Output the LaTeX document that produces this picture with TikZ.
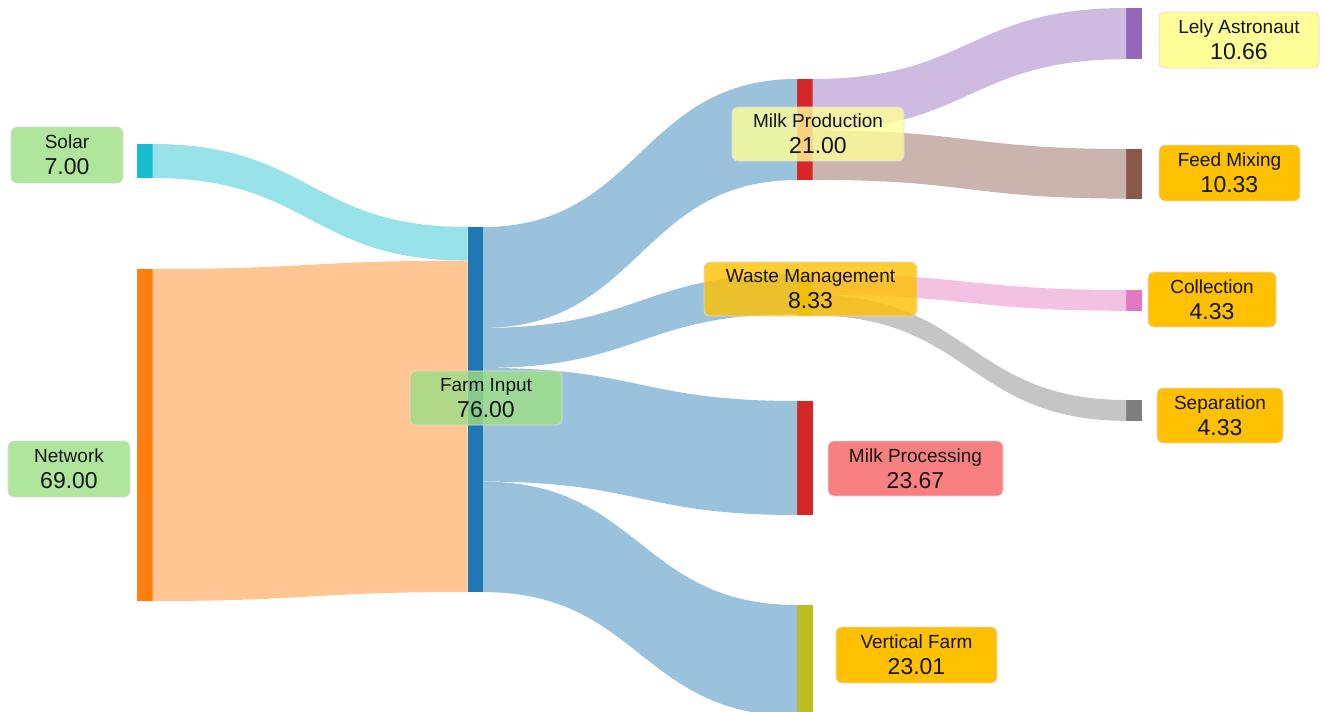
\documentclass[tikz,border=0pt]{standalone}
\usepackage{fontspec}
\setmainfont{Liberation Sans}
\usetikzlibrary{calc}
\definecolor{cSolar}{HTML}{17BECF}
\definecolor{cNet}{HTML}{FF7F0E}
\definecolor{cFarm}{HTML}{1F77B4}
\definecolor{cRed}{HTML}{D62728}
\definecolor{cOlive}{HTML}{BCBD22}
\definecolor{cPurple}{HTML}{9467BD}
\definecolor{cBrown}{HTML}{8C564B}
\definecolor{cPink}{HTML}{E377C2}
\definecolor{cGray}{HTML}{7F7F7F}
\definecolor{bGreen}{HTML}{B0E59C}
\definecolor{bGreenT}{HTML}{9CDF83}
\definecolor{bYellow}{HTML}{FFFF99}
\definecolor{bOrange}{HTML}{FFC000}
\definecolor{bSalmon}{HTML}{F98080}
\newcommand{\nlab}[2]{#1\\{\fontsize{23}{26}\selectfont #2}}
% flow: src, src offset, src thickness, dst, dst offset, dst thickness, colour
\newcommand{\flow}[7]{%
  \fill[#7!45!white] let \p1=(#1.north east), \p2=(#4.north west) in
    (\x1,{\y1-#2}) .. controls ({0.5*\x1+0.5*\x2},{\y1-#2}) and ({0.5*\x1+0.5*\x2},{\y2-#5}) .. (\x2,{\y2-#5})
    -- (\x2,{\y2-#5-#6}) .. controls ({0.5*\x1+0.5*\x2},{\y2-#5-#6}) and ({0.5*\x1+0.5*\x2},{\y1-#2-#3}) .. (\x1,{\y1-#2-#3})
    -- cycle;}
\tikzset{
  bar/.style={rectangle, inner sep=0pt, outer sep=0pt, minimum width=15.5pt, anchor=north west, draw=none},
  lbl/.style={rectangle, rounded corners=6pt, draw=black!14, line width=0.7pt, align=center,
    inner sep=0pt, font=\fontsize{19}{26}\selectfont, text=black!92},
  see/.style={fill opacity=0.8, text opacity=1}
}
\begin{document}
\begin{tikzpicture}[x=1pt,y=-1pt]
\useasboundingbox (0,0) rectangle (1325,712);
% bars
\node[bar, fill=cSolar,  minimum height=34pt]    (solar)    at (137,144) {};
\node[bar, fill=cNet,    minimum height=332pt]   (network)  at (137,269) {};
\node[bar, fill=cFarm,   minimum height=365pt]   (farm)     at (467.5,227) {};
\node[bar, fill=cRed,    minimum height=101pt]   (milkprod) at (797,79) {};
\node[bar, fill=cOlive,  minimum height=41.6pt]  (waste)    at (797,274) {};
\node[bar, fill=cRed,    minimum height=114pt]   (milkproc) at (797,401) {};
\node[bar, fill=cOlive,  minimum height=111pt]   (vfarm)    at (797,605) {};
\node[bar, fill=cPurple, minimum height=51.2pt]  (lely)     at (1126,8) {};
\node[bar, fill=cBrown,  minimum height=49.6pt]  (feed)     at (1126,149) {};
\node[bar, fill=cPink,   minimum height=20.8pt]  (coll)     at (1126,290) {};
\node[bar, fill=cGray,   minimum height=20.8pt]  (sep)      at (1126,400) {};
% flows
\flow{solar}{0pt}{34pt}{farm}{0pt}{33.6pt}{cSolar}
\flow{network}{0pt}{332pt}{farm}{33.6pt}{331.4pt}{cNet}
\flow{farm}{0pt}{100.9pt}{milkprod}{0pt}{101pt}{cFarm}
\flow{farm}{100.9pt}{40pt}{waste}{0pt}{40pt}{cFarm}
\flow{farm}{140.9pt}{113.7pt}{milkproc}{0pt}{114pt}{cFarm}
\flow{farm}{254.6pt}{110.5pt}{vfarm}{0pt}{111pt}{cFarm}
\flow{milkprod}{0pt}{51.2pt}{lely}{0pt}{51.2pt}{cPurple}
\flow{milkprod}{51.2pt}{49.6pt}{feed}{0pt}{49.6pt}{cBrown}
\flow{waste}{0pt}{20.8pt}{coll}{0pt}{20.8pt}{cPink}
\flow{waste}{20.8pt}{20.8pt}{sep}{0pt}{20.8pt}{cGray}
% labels
\node[lbl, fill=bGreen,  minimum width=112pt, minimum height=56pt] (solarL)   at (67,155)     {\nlab{Solar}{7.00}};
\node[lbl, fill=bGreen,  minimum width=122pt, minimum height=56pt] (networkL) at (69,469)     {\nlab{Network}{69.00}};
\node[lbl, see, fill=bGreenT, minimum width=152pt, minimum height=54pt] (farmL) at (486,398) {\nlab{Farm Input}{76.00}};
\node[lbl, see, fill=bYellow, minimum width=172pt, minimum height=54pt] (milkprodL) at (818,134) {\nlab{Milk Production}{21.00}};
\node[lbl, see, fill=bOrange, minimum width=213pt, minimum height=54pt] (wasteL) at (810.5,289) {\nlab{Waste Management}{8.33}};
\node[lbl, fill=bSalmon, minimum width=175pt, minimum height=55pt] (milkprocL) at (915.5,468.5) {\nlab{Milk Processing}{23.67}};
\node[lbl, fill=bOrange, minimum width=161pt, minimum height=56pt] (vfarmL)   at (916.5,655)  {\nlab{Vertical Farm}{23.01}};
\node[lbl, fill=bYellow, minimum width=160pt, minimum height=56pt] (lelyL)    at (1239,40)    {\nlab{Lely Astronaut}{10.66}};
\node[lbl, fill=bOrange, minimum width=141pt, minimum height=56pt] (feedL)    at (1229.5,173) {\nlab{Feed Mixing}{10.33}};
\node[lbl, fill=bOrange, minimum width=128pt, minimum height=55pt] (collL)    at (1212,299.5) {\nlab{Collection}{4.33}};
\node[lbl, fill=bOrange, minimum width=126pt, minimum height=55pt] (sepL)     at (1220,415.5) {\nlab{Separation}{4.33}};
\end{tikzpicture}
\end{document}
